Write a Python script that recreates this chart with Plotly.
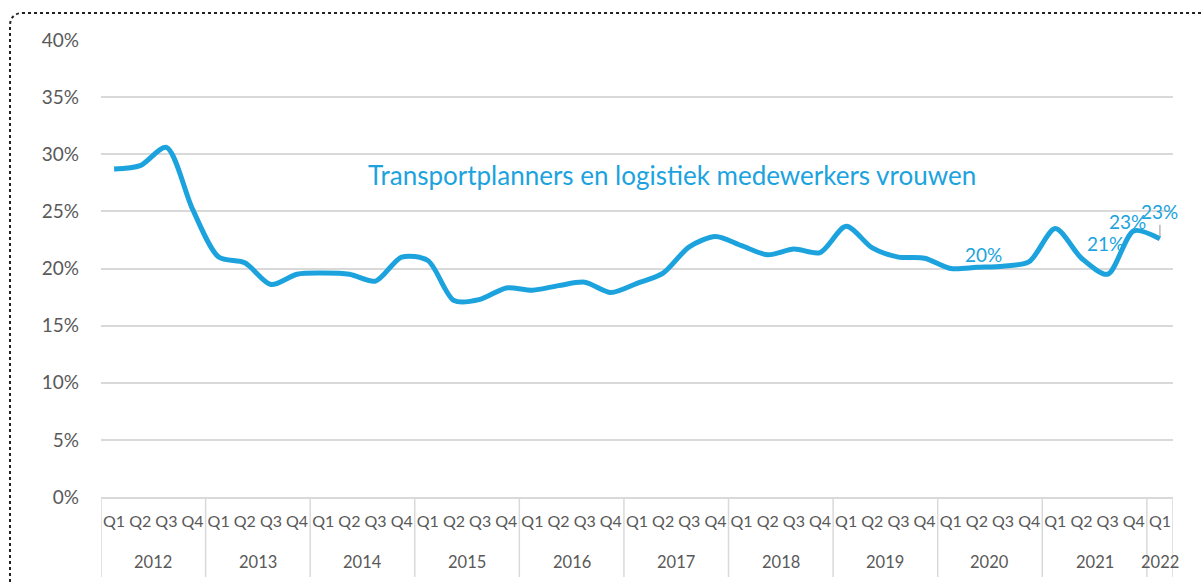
import plotly.graph_objects as go

year_list = ["2012", "2013", "2014", "2015", "2016", "2017", "2018", "2019", "2020", "2021", "2022"]
quarters_per_year = [4, 4, 4, 4, 4, 4, 4, 4, 4, 4, 1]
quarter_names = ["Q1", "Q2", "Q3", "Q4"]

years = [y for y, n in zip(year_list, quarters_per_year) for _ in range(n)]
quarters = [quarter_names[k] for n in quarters_per_year for k in range(n)]
cats = [f"{y} {q}" for y, q in zip(years, quarters)]

share = [
    28.7, 29.0, 30.6, 25.2,   # 2012
    21.0, 20.5, 18.6, 19.5,   # 2013
    19.6, 19.5, 18.9, 21.0,   # 2014
    20.7, 17.2, 17.3, 18.3,   # 2015
    18.1, 18.5, 18.8, 17.9,   # 2016
    18.7, 19.6, 21.9, 22.8,   # 2017
    22.0, 21.2, 21.7, 21.4,   # 2018
    23.7, 21.8, 21.0, 20.9,   # 2019
    20.0, 20.1, 20.2, 20.6,   # 2020
    23.5, 20.9, 19.5, 23.3,   # 2021
    22.6,                     # 2022
]
share = [v / 100 for v in share]

label_idx = [33, 38, 39, 40]
label_txt = ["20%", "21%", "23%", "23%"]
label_dx = [7, -2, -6, 0]
label_dy = [13, 31, 9, 0]

title_text = "Transportplanners en logistiek medewerkers vrouwen"

BLUE = "#1CA3DE"
GRAY = "#595959"
GRID = "#D9D9D9"
FONT = "Lato"

L, T = 101, 40
W, H = 1072, 457
def px(x):
    return (x - L) / W
def py(y):
    return (T + H - y) / H

fig = go.Figure()
fig.add_trace(go.Scatter(
    x=cats, y=share, mode="lines",
    line=dict(color=BLUE, width=5, shape="spline", smoothing=0.8),
    hoverinfo="skip", showlegend=False,
))

for i, t, dx, dy in zip(label_idx, label_txt, label_dx, label_dy):
    last = (i == len(share) - 1)
    fig.add_annotation(
        x=cats[i], xref="x", yref="y",
        y=share[i], text=t,
        font=dict(family=FONT, size=19, color=BLUE),
        showarrow=last, arrowhead=0, arrowcolor="#A6A6A6", arrowwidth=1.2,
        ax=0, ay=-27, standoff=2,
        xshift=dx, yshift=dy if not last else 0,
    )

# year group labels and dividers
start = 0
for y, n in zip(year_list, quarters_per_year):
    fig.add_annotation(
        x=start + (n - 1) / 2, y=py(562), xref="x", yref="paper",
        text=y, showarrow=False, yanchor="middle", xanchor="center",
        font=dict(family=FONT, size=16.5, color=GRAY),
    )
    fig.add_shape(type="line", xref="x", yref="paper",
                  x0=start - 0.5, x1=start - 0.5, y0=0, y1=py(577),
                  line=dict(color=GRID, width=1.5))
    start += n
fig.add_shape(type="line", xref="x", yref="paper",
              x0=start - 0.5, x1=start - 0.5, y0=0, y1=py(577),
              line=dict(color=GRID, width=1.5))

fig.add_annotation(
    x=px(672), y=py(175), xref="paper", yref="paper",
    text=title_text, showarrow=False, yanchor="middle", xanchor="center",
    font=dict(family=FONT, size=26, color=BLUE),
)

# dotted chart frame (rounded top-left corner)
frame = (f"M {px(10)},{py(600)} L {px(10)},{py(26)} "
         f"Q {px(10)},{py(13)} {px(23)},{py(13)} L {px(1215)},{py(13)}")
fig.add_shape(type="path", path=frame, xref="paper", yref="paper",
              line=dict(color="#222222", width=2, dash="dot"), layer="above")

fig.update_layout(
    width=1201, height=585,
    margin=dict(l=L, r=1201 - L - W, t=T, b=585 - T - H, autoexpand=False),
    paper_bgcolor="white", plot_bgcolor="white",
    font=dict(family=FONT, color=GRAY),
    xaxis=dict(
        type="category", automargin=False, range=[-0.5, len(cats) - 0.5],
        tickmode="array", tickvals=cats, ticktext=quarters,
        showgrid=False, showline=True, linecolor=GRID, linewidth=1.5,
        tickfont=dict(family=FONT, size=16, color=GRAY), tickangle=0,
        ticks="", zeroline=False, ticklabelstandoff=9,
    ),
    yaxis=dict(
        range=[0, 0.4], dtick=0.05, tickformat=".0%", automargin=False,
        showgrid=True, gridcolor=GRID, gridwidth=1.5,
        zeroline=False, showline=False, ticks="",
        tickfont=dict(family=FONT, size=19, color=GRAY),
        ticklabelstandoff=21,
    ),
)

fig.write_html("out.html", config={"displayModeBar": False},
               post_script="document.body.style.margin='0';")
